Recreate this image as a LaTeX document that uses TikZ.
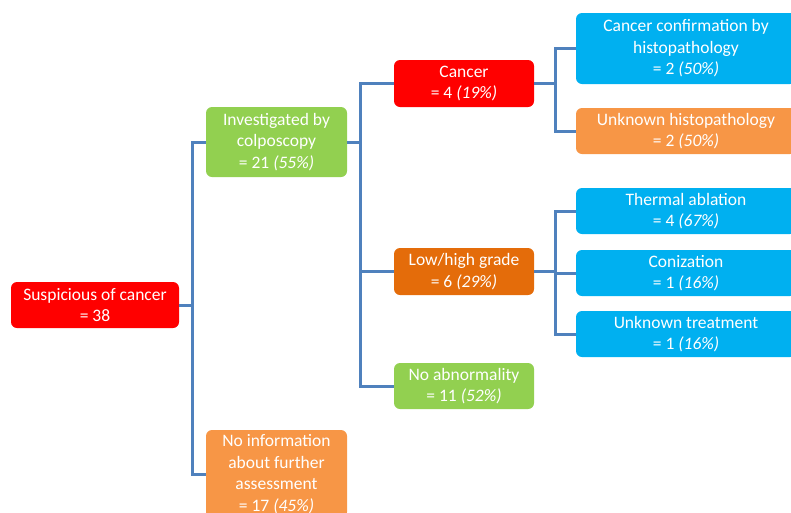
\documentclass[tikz,border=0pt]{standalone}
\usepackage{fontspec}
\setmainfont{Carlito}
\definecolor{cred}{HTML}{FF0000}
\definecolor{cgreen}{HTML}{92D050}
\definecolor{corange}{HTML}{F79646}
\definecolor{cdark}{HTML}{E46C0A}
\definecolor{cblue}{HTML}{00B0F0}
\definecolor{cline}{HTML}{4F81BD}
\begin{document}
\begin{tikzpicture}[x=1pt,y=-1pt,
  box/.style={rectangle,rounded corners=6pt,draw=none,text=white,align=center,
    font=\fontsize{17.5}{21.5}\selectfont,inner sep=0pt},
  conn/.style={draw=cline,line width=3pt}]
\useasboundingbox (0,0) rectangle (791,512);
\coordinate (j1) at (192,305);
\coordinate (j2) at (360,142);
\coordinate (j3) at (555,83.5);
\coordinate (j4) at (555,271.5);
\node[box,fill=cred,minimum width=168pt,minimum height=46pt] (sus) at (95,305) {Suspicious of cancer\\= 38};
\node[box,fill=cgreen,minimum width=141pt,minimum height=70pt] (inv) at (276.5,142) {Investigated by\\colposcopy\\= 21 \textit{(55\%)}};
\node[box,fill=corange,minimum width=141pt,minimum height=88pt] (noinfo) at (276.5,474) {No information\\about further\\assessment\\= 17 \textit{(45\%)}};
\node[box,fill=cred,minimum width=140pt,minimum height=47pt] (cancer) at (464,83.5) {Cancer\\= 4 \textit{(19\%)}};
\node[box,fill=cdark,minimum width=140pt,minimum height=47pt] (low) at (464,271.5) {Low/high grade\\= 6 \textit{(29\%)}};
\node[box,fill=cgreen,minimum width=140pt,minimum height=46pt] (noab) at (464,386) {No abnormality\\= 11 \textit{(52\%)}};
\node[box,fill=cblue,minimum width=220pt,minimum height=71pt] (conf) at (686,48.5) {Cancer confirmation by\\histopathology\\= 2 \textit{(50\%)}};
\node[box,fill=corange,minimum width=220pt,minimum height=46pt] (unkh) at (686,131) {Unknown histopathology\\= 2 \textit{(50\%)}};
\node[box,fill=cblue,minimum width=220pt,minimum height=46pt] (therm) at (686,211) {Thermal ablation\\= 4 \textit{(67\%)}};
\node[box,fill=cblue,minimum width=220pt,minimum height=46pt] (coniz) at (686,273) {Conization\\= 1 \textit{(16\%)}};
\node[box,fill=cblue,minimum width=220pt,minimum height=46pt] (unkt) at (686,334) {Unknown treatment\\= 1 \textit{(16\%)}};
\draw[conn] (sus.east) -- (j1) |- (inv.west);
\draw[conn] (j1) |- (noinfo.west);
\draw[conn] (inv.east) -- (j2) |- (cancer.west);
\draw[conn] (j2) |- (low.west);
\draw[conn] (j2) |- (noab.west);
\draw[conn] (cancer.east) -- (j3) |- (conf.west);
\draw[conn] (j3) |- (unkh.west);
\draw[conn] (low.east) -- (j4) |- (therm.west);
\draw[conn] (j4) |- (coniz.west);
\draw[conn] (j4) |- (unkt.west);
\end{tikzpicture}
\end{document}
